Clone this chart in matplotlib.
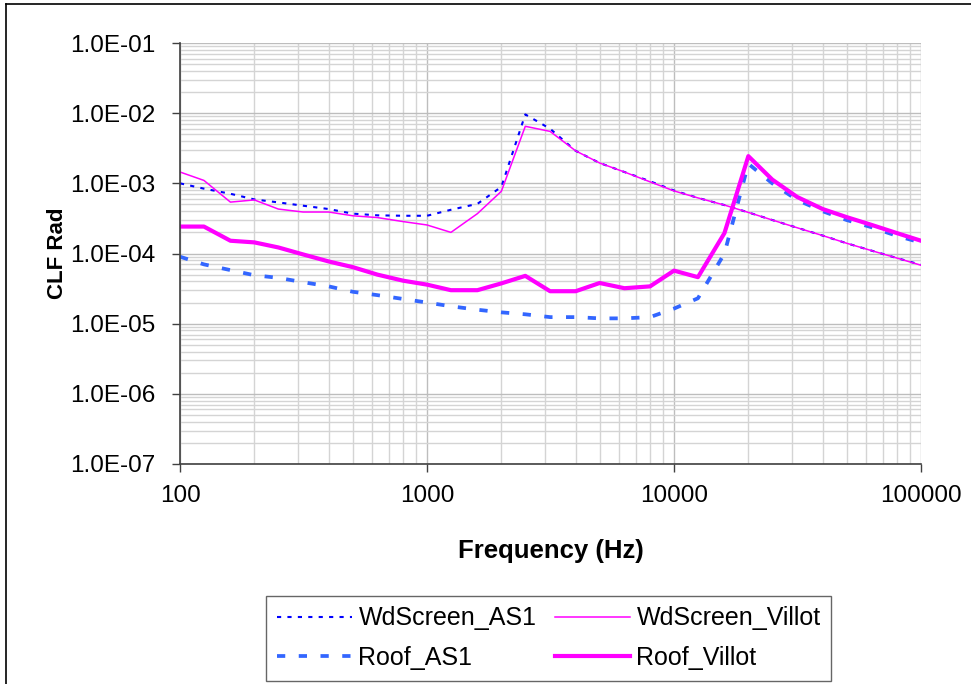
import matplotlib
matplotlib.use("Agg")
import matplotlib.pyplot as plt
from matplotlib.ticker import FixedLocator, FuncFormatter, LogLocator, NullFormatter
from matplotlib.lines import Line2D

freq = [100, 125, 160, 200, 250, 315, 400, 500, 630, 800, 1000, 1250, 1600, 2000,
        2500, 3150, 4000, 5000, 6300, 8000, 10000, 12500, 16000, 20000, 25000,
        31500, 40000, 50000, 63000, 80000, 100000]

wd_as1 = [1.0e-3, 8.4e-4, 7.1e-4, 5.9e-4, 5.35e-4, 4.8e-4, 4.3e-4, 3.7e-4, 3.5e-4,
          3.45e-4, 3.45e-4, 4.2e-4, 5.1e-4, 8.9e-4, 9.6e-3, 6.0e-3, 2.9e-3, 1.95e-3,
          1.45e-3, 1.07e-3, 7.9e-4, 6.2e-4, 4.9e-4, 3.85e-4, 3.0e-4, 2.33e-4, 1.8e-4,
          1.4e-4, 1.1e-4, 8.6e-5, 6.9e-5]

wd_villot = [1.45e-3, 1.1e-3, 5.4e-4, 5.8e-4, 4.3e-4, 3.9e-4, 3.9e-4, 3.45e-4, 3.25e-4,
             2.85e-4, 2.55e-4, 2.0e-4, 3.7e-4, 7.7e-4, 6.5e-3, 5.5e-3, 2.9e-3, 1.95e-3,
             1.45e-3, 1.05e-3, 7.8e-4, 6.2e-4, 4.9e-4, 3.85e-4, 3.0e-4, 2.33e-4, 1.8e-4,
             1.4e-4, 1.1e-4, 8.6e-5, 6.8e-5]

roof_as1 = [9.0e-5, 7.0e-5, 5.8e-5, 4.9e-5, 4.5e-5, 3.9e-5, 3.4e-5, 2.85e-5, 2.55e-5,
            2.25e-5, 2.0e-5, 1.77e-5, 1.58e-5, 1.45e-5, 1.36e-5, 1.24e-5, 1.24e-5,
            1.19e-5, 1.19e-5, 1.24e-5, 1.64e-5, 2.3e-5, 1.0e-4, 1.9e-3, 1.0e-3, 5.8e-4,
            4.0e-4, 3.0e-4, 2.37e-4, 1.78e-4, 1.43e-4]

roof_villot = [2.42e-4, 2.42e-4, 1.52e-4, 1.44e-4, 1.22e-4, 9.7e-5, 7.7e-5, 6.4e-5,
               5.0e-5, 4.1e-5, 3.6e-5, 3.0e-5, 3.0e-5, 3.75e-5, 4.8e-5, 2.9e-5, 2.9e-5,
               3.8e-5, 3.2e-5, 3.4e-5, 5.7e-5, 4.6e-5, 1.95e-4, 2.44e-3, 1.13e-3, 6.4e-4,
               4.3e-4, 3.3e-4, 2.56e-4, 1.95e-4, 1.52e-4]

x_ticks = [100, 1000, 10000, 100000]
y_ticks = [1e-7, 1e-6, 1e-5, 1e-4, 1e-3, 1e-2, 1e-1]

plt.rcParams['font.family'] = ['Liberation Sans', 'DejaVu Sans']

W, H = 971, 684
fig = plt.figure(figsize=(W / 100, H / 100), dpi=100)
ax = fig.add_axes([180 / W, 1 - 464 / H, (921 - 180) / W, (464 - 43) / H])

ax.set_xscale('log')
ax.set_yscale('log')
ax.set_xlim(100, 100000)
ax.set_ylim(1e-7, 1e-1)

# grid
ax.xaxis.set_minor_locator(LogLocator(base=10, subs=range(2, 10)))
ax.yaxis.set_minor_locator(LogLocator(base=10, subs=range(2, 10)))
ax.xaxis.set_minor_formatter(NullFormatter())
ax.yaxis.set_minor_formatter(NullFormatter())
ax.grid(True, which='major', color='#bdbdbd', linewidth=1.0)
ax.grid(True, which='minor', color='#d4d4d4', linewidth=1.0)
ax.set_axisbelow(True)

ax.plot(freq, wd_as1, color='#0000FF', lw=1.5, linestyle=(0, (2, 3)),
        label='WdScreen_AS1')
ax.plot(freq, roof_as1, color='#3366FF', lw=2.7, linestyle=(0, (2.2, 3.6)),
        label='Roof_AS1')
ax.plot(freq, wd_villot, color='#FF00FF', lw=1.1, label='WdScreen_Villot')
ax.plot(freq, roof_villot, color='#FF00FF', lw=3.0, label='Roof_Villot')

ax.xaxis.set_major_locator(FixedLocator(x_ticks))
ax.xaxis.set_major_formatter(FuncFormatter(lambda v, p: f"{int(round(v))}"))
ax.yaxis.set_major_locator(FixedLocator(y_ticks))
ax.yaxis.set_major_formatter(FuncFormatter(lambda v, p: f"{v:.1E}"))

for s in ['top', 'right']:
    ax.spines[s].set_visible(False)
for s in ['left', 'bottom']:
    ax.spines[s].set_color('#404040')
    ax.spines[s].set_linewidth(1.2)

ax.tick_params(which='major', direction='out', length=6, width=1.0, color='#404040',
               labelsize=17.5, labelcolor='black')
ax.tick_params(axis='y', which='major', pad=12)
ax.tick_params(axis='x', which='major', pad=9)
ax.tick_params(which='minor', length=0)

ax.set_xlabel('Frequency (Hz)', fontsize=18.5, fontweight='bold', labelpad=23)
ax.set_ylabel('CLF Rad', fontsize=16, fontweight='bold', labelpad=1)

leg = fig.legend(loc='upper left', bbox_to_anchor=(266 / W, 1 - 596 / H),
                 ncol=2, fontsize=18, frameon=True, fancybox=False,
                 handlelength=3.0, handletextpad=0.28, columnspacing=0.72,
                 borderaxespad=0, borderpad=0.42, labelspacing=0.62)
leg.get_frame().set_edgecolor('#404040')
leg.get_frame().set_linewidth(1.0)

# figure border (left and top visible)
fig.add_artist(Line2D([5.5 / W, 5.5 / W], [0, 1 - 3.5 / H], color='black', lw=1.2))
fig.add_artist(Line2D([5.5 / W, 1], [1 - 3.5 / H, 1 - 3.5 / H], color='black', lw=1.2))

fig.savefig('out.png', dpi=100)
